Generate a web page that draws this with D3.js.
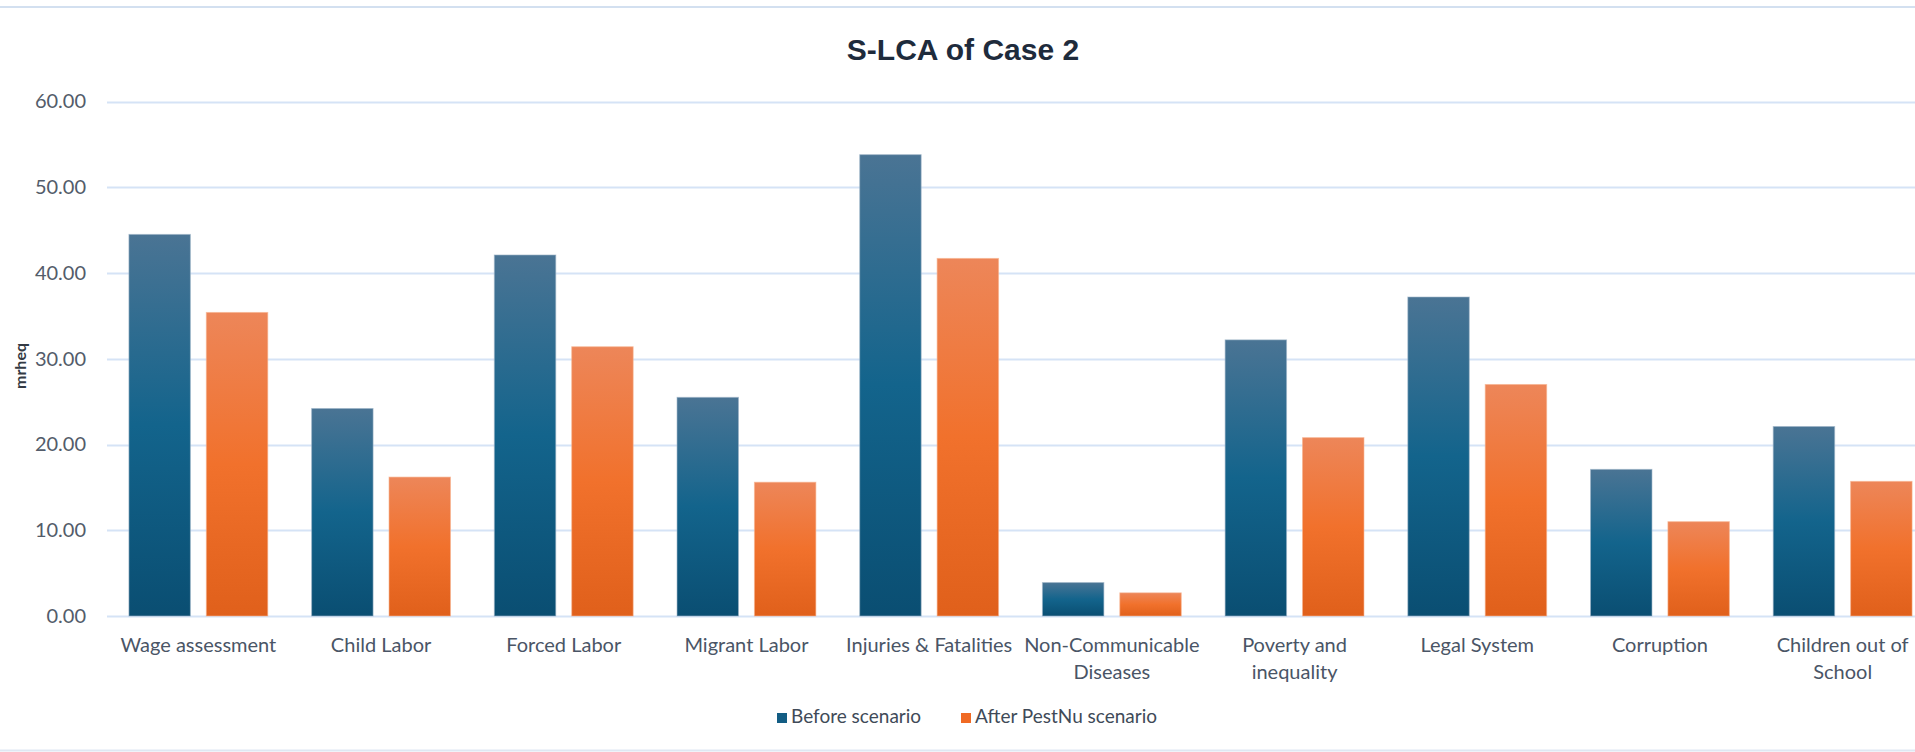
<!DOCTYPE html>
<html><head><meta charset="utf-8">
<script src="https://cdn.jsdelivr.net/npm/d3@7"></script>
<style>html,body{margin:0;padding:0;background:#fff;overflow:hidden} svg{display:block}</style>
</head><body><svg id="c" width="1915" height="752"></svg>
<script>
const categories = ["Wage assessment","Child Labor","Forced Labor","Migrant Labor","Injuries & Fatalities","Non-Communicable Diseases","Poverty and inequality","Legal System","Corruption","Children out of School"];
const tickLabels = [["Wage assessment"],["Child Labor"],["Forced Labor"],["Migrant Labor"],["Injuries & Fatalities"],["Non-Communicable","Diseases"],["Poverty and","inequality"],["Legal System"],["Corruption"],["Children out of","School"]];
const seriesNames = ["Before scenario","After PestNu scenario"];
const beforeValues = [44.5,24.2,42.1,25.5,53.8,3.9,32.2,37.2,17.1,22.1];
const afterValues = [35.4,16.2,31.4,15.6,41.7,2.7,20.8,27.0,11.0,15.7];
const yTicks = [0,10,20,30,40,50,60];
const yTickLabels = ["0.00","10.00","20.00","30.00","40.00","50.00","60.00"];

const W = 1915, H = 752;
const svg = d3.select("#c");
const plotL = 107, plotB = 616, plotT = 101.5;

const defs = svg.append("defs");
const gradStops = [
  [["0%","#4a7494"],["50%","#13648c"],["100%","#0a4e72"]],
  [["0%","#ed8659"],["50%","#f1712c"],["100%","#e0601b"]]
];
gradStops.forEach((stops,i)=>{
  const g = defs.append("linearGradient").attr("id","g"+i).attr("x1",0).attr("y1",0).attr("x2",0).attr("y2",1);
  stops.forEach(s=>g.append("stop").attr("offset",s[0]).attr("stop-color",s[1]));
});
const legendColors = ["#135d84","#f06a24"];

// chart border lines
svg.append("line").attr("x1",0).attr("x2",W).attr("y1",7).attr("y2",7).attr("stroke","#d3e0f0").attr("stroke-width",2);
svg.append("line").attr("x1",0).attr("x2",W).attr("y1",750.5).attr("y2",750.5).attr("stroke","#dfe8f3").attr("stroke-width",2);

const x0 = d3.scaleBand().domain(categories).range([plotL, plotL + 182.7*categories.length]).paddingInner(0.24).paddingOuter(0.12);
const x1 = d3.scaleBand().domain(seriesNames).range([0, x0.bandwidth()]).paddingInner(0.206).paddingOuter(0);
const y = d3.scaleLinear().domain([0,60]).range([plotB, plotT]);

// axis + gridlines
const yAxis = d3.axisLeft(y).tickValues(yTicks).tickFormat((d,i)=>yTickLabels[i]).tickSize(0).tickPadding(21);
const ga = svg.append("g").attr("transform",`translate(${plotL},0)`).call(yAxis);
ga.select(".domain").remove();
ga.selectAll("text").attr("font-family","Lato, sans-serif").attr("font-size",20).attr("fill","#535c6a");
svg.append("g").selectAll("line").data(yTicks).join("line")
  .attr("x1",plotL).attr("x2",W).attr("y1",d=>Math.round(y(d))+0.5).attr("y2",d=>Math.round(y(d))+0.5)
  .attr("stroke","#d5e3f6").attr("stroke-width",2);

// bars
const series = [beforeValues, afterValues];
const groups = svg.append("g").selectAll("g").data(categories).join("g")
  .attr("transform",d=>`translate(${x0(d)},0)`);
groups.selectAll("rect").data((d,i)=>series.map((s,j)=>({k:seriesNames[j], v:s[i], j}))).join("rect")
  .attr("x",d=>x1(d.k)).attr("width",x1.bandwidth())
  .attr("y",d=>y(d.v)).attr("height",d=>y(0)-y(d.v))
  .attr("fill",d=>`url(#g${d.j})`)
  .attr("stroke",d=>d.j===0?"#9bb3c6":"#f6b08c").attr("stroke-width",1).attr("stroke-opacity",0.6);

// x labels
const xl = svg.append("g").selectAll("text").data(categories).join("text")
  .attr("text-anchor","middle").attr("font-family","Lato, sans-serif").attr("font-size",20).attr("fill","#4a5566")
  .attr("transform",d=>`translate(${x0(d)+x0.bandwidth()/2},652)`);
xl.each(function(d,i){
  const t = d3.select(this);
  tickLabels[i].forEach((line,k)=>t.append("tspan").attr("x",0).attr("y",k*27).text(line));
});

// title
svg.append("text").attr("x",963).attr("y",60).attr("text-anchor","middle")
  .attr("font-family","'Liberation Sans', Arial, sans-serif").attr("font-weight","bold").attr("font-size",30)
  .attr("fill","#1e2b3c").text("S-LCA of Case 2");

// y title
svg.append("text").attr("transform","translate(26,366) rotate(-90)").attr("text-anchor","middle")
  .attr("font-family","Lato, sans-serif").attr("font-weight","bold").attr("font-size",16).attr("fill","#333a44").text("mrheq");

// legend
const legX = [777, 961];
const lg = svg.append("g").selectAll("g").data(seriesNames).join("g").attr("transform",(d,i)=>`translate(${legX[i]},713)`);
lg.append("rect").attr("width",10).attr("height",10).attr("fill",(d,i)=>legendColors[i]);
lg.append("text").attr("x",14).attr("y",10).attr("font-family","Lato, sans-serif").attr("font-size",19).attr("fill","#404a58").text(d=>d);
</script></body></html>
